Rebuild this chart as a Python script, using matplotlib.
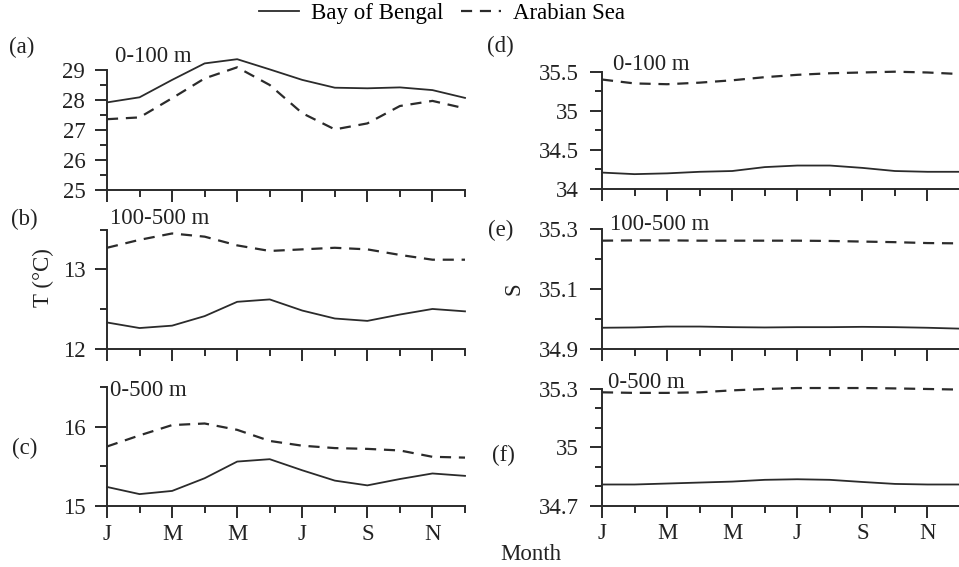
import matplotlib
matplotlib.use("Agg")
import matplotlib.pyplot as plt
from matplotlib.ticker import FixedLocator
import numpy as np

plt.rcParams['font.family'] = ['Liberation Serif', 'DejaVu Serif']
plt.rcParams['font.size'] = 16.5

months = ["J", "F", "M", "A", "M", "J", "J", "A", "S", "O", "N", "D"]
month_ticklabels = ["J", "M", "M", "J", "S", "N"]

# Temperature (°C)
t_0_100_bob = [27.92, 28.09, 28.67, 29.22, 29.36, 29.02, 28.67, 28.41, 28.39, 28.42, 28.33, 28.07]
t_0_100_as = [27.36, 27.42, 28.06, 28.72, 29.09, 28.50, 27.56, 27.02, 27.22, 27.80, 27.97, 27.72]
t_100_500_bob = [12.33, 12.26, 12.29, 12.41, 12.59, 12.62, 12.48, 12.38, 12.35, 12.43, 12.50, 12.47]
t_100_500_as = [13.27, 13.37, 13.45, 13.41, 13.30, 13.23, 13.25, 13.27, 13.25, 13.18, 13.12, 13.12]
t_0_500_bob = [15.24, 15.15, 15.19, 15.35, 15.56, 15.59, 15.45, 15.32, 15.26, 15.34, 15.41, 15.38]
t_0_500_as = [15.75, 15.89, 16.02, 16.04, 15.96, 15.82, 15.76, 15.73, 15.72, 15.70, 15.62, 15.61]

# Salinity
s_0_100_bob = [34.21, 34.19, 34.20, 34.22, 34.23, 34.28, 34.30, 34.30, 34.27, 34.23, 34.22, 34.22]
s_0_100_as = [35.40, 35.35, 35.34, 35.36, 35.39, 35.43, 35.46, 35.48, 35.49, 35.50, 35.49, 35.47]
s_100_500_bob = [34.970, 34.971, 34.974, 34.974, 34.972, 34.971, 34.972, 34.972, 34.973, 34.972, 34.970, 34.967]
s_100_500_as = [35.261, 35.262, 35.262, 35.261, 35.261, 35.261, 35.261, 35.260, 35.258, 35.256, 35.253, 35.252]
s_0_500_bob = [34.809, 34.809, 34.814, 34.819, 34.824, 34.833, 34.836, 34.833, 34.822, 34.812, 34.809, 34.809]
s_0_500_as = [35.283, 35.280, 35.280, 35.283, 35.293, 35.300, 35.305, 35.305, 35.305, 35.303, 35.300, 35.297]

W, H = 959, 567
fig = plt.figure(figsize=(W / 100, H / 100), dpi=100)

def px_axes(x0, x1, ytop, ybot):
    return fig.add_axes([x0 / W, 1 - ybot / H, (x1 - x0) / W, (ybot - ytop) / H])

col = "#2b2b2b"
tcol = "#222222"
x = np.arange(12)

panels = [
    # x0, x1, ytop, ybot, ylim, spine_top, majors, minors, bob, as, label, lpos, depth, dpos, ypad
    (107, 465, 55, 190, (25, 29.5), 29, [25, 26, 27, 28, 29], [25.5, 26.5, 27.5, 28.5],
     t_0_100_bob, t_0_100_as, "(a)", (9, 47), "0-100 m", (115, 57), 7),
    (107, 465, 229.5, 348.7, (12, 13.5), 13.5, [12, 13], [12.5, 13.5],
     t_100_500_bob, t_100_500_as, "(b)", (11, 219), "100-500 m", (110, 218), 7),
    (107, 465, 387, 506, (15, 16.5), 16.5, [15, 16], [15.5, 16.5],
     t_0_500_bob, t_0_500_as, "(c)", (12, 448), "0-500 m", (110, 390), 7),
    (602, 960, 71.7, 189, (34, 35.5), 35.5, [34, 34.5, 35, 35.5], [34.25, 34.75, 35.25],
     s_0_100_bob, s_0_100_as, "(d)", (487, 46), "0-100 m", (613, 64), 8),
    (602, 960, 229, 348.7, (34.9, 35.3), 35.3, [34.9, 35.1, 35.3], [35.0, 35.2],
     s_100_500_bob, s_100_500_as, "(e)", (488, 230), "100-500 m", (610, 225), 8),
    (602, 960, 389, 505.7, (34.7, 35.3), 35.3, [34.7, 35, 35.3], [34.8, 34.9, 35.1, 35.2],
     s_0_500_bob, s_0_500_as, "(f)", (492, 455), "0-500 m", (608, 382), 8),
]

handles = None
for i, (x0, x1, yt, yb, ylim, stop, majors, minors, bob, ars, lab, lpos, dep, dpos, ypad) in enumerate(panels):
    ax = px_axes(x0, x1, yt, yb)
    l1, = ax.plot(x, bob, color=col, lw=1.3, ls='-', label="Bay of Bengal", clip_on=False)
    l2, = ax.plot(x, ars, color=col, lw=1.6, ls=(0, (5, 3.5)), label="Arabian Sea", clip_on=False)
    if handles is None:
        handles = [l1, l2]
    ax.set_xlim(0, 11)
    ax.set_ylim(*ylim)
    for s in ['top', 'right']:
        ax.spines[s].set_visible(False)
    for s in ['left', 'bottom']:
        ax.spines[s].set_linewidth(1.4)
        ax.spines[s].set_color(col)
    ax.spines['left'].set_bounds(ylim[0], stop)
    ax.set_yticks(majors)
    ax.set_yticklabels([("%g" % v) for v in majors])
    ax.yaxis.set_minor_locator(FixedLocator(minors))
    ax.set_xticks([0, 2, 4, 6, 8, 10])
    ax.xaxis.set_minor_locator(FixedLocator([1, 3, 5, 7, 9, 11]))
    if i in (2, 5):
        ax.set_xticklabels(month_ticklabels)
    else:
        ax.set_xticklabels([])
    ax.tick_params(which='major', direction='out', length=8.6, width=1.4, color=col,
                   labelcolor=tcol, labelsize=16.5)
    ax.tick_params(which='minor', direction='out', length=5.2, width=1.4, color=col)
    ax.tick_params(axis='y', which='major', pad=ypad)
    ax.tick_params(axis='x', which='major', pad=4)
    ax.patch.set_visible(False)
    fig.text(lpos[0] / W, 1 - lpos[1] / H, lab, ha='left', va='center', fontsize=16.5, color=tcol)
    fig.text(dpos[0] / W, 1 - dpos[1] / H, dep, ha='left', va='center', fontsize=16.5, color=tcol)

fig.text(43 / W, 1 - 278 / H, "T (°C)", rotation=90, ha='center', va='center', fontsize=16.5, color=tcol)
fig.text(514 / W, 1 - 289 / H, "S", rotation=90, ha='center', va='center', fontsize=16.5, color=tcol)
fig.text(531 / W, 1 - 555 / H, "Month", ha='center', va='center', fontsize=16.5, color=tcol)

fig.legend(handles=handles, labels=["Bay of Bengal", "Arabian Sea"], loc='center',
           bbox_to_anchor=(442 / W, 1 - 13 / H), ncol=2, frameon=False, fontsize=16.5,
           handlelength=1.75, handletextpad=0.5, columnspacing=0.8, borderpad=0, borderaxespad=0)

fig.savefig("out.png", dpi=100)
